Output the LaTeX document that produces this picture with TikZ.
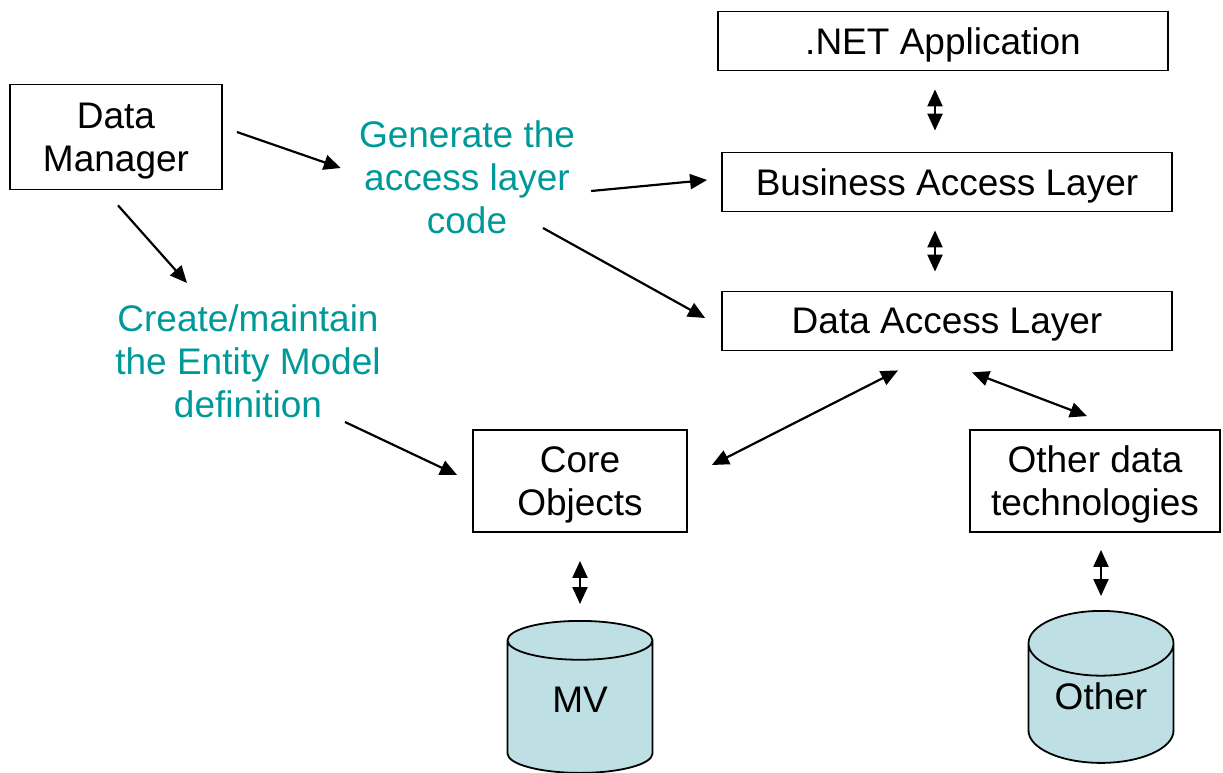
\documentclass[tikz,border=0pt]{standalone}
\usepackage{fontspec}
\setmainfont{Liberation Sans}
\usetikzlibrary{shapes.geometric,arrows.meta}
\definecolor{noteteal}{RGB}{0,153,153}
\definecolor{dbblue}{RGB}{190,224,228}
\begin{document}
\begin{tikzpicture}[x=1pt,y=-1pt,font=\fontsize{37}{43}\selectfont,
    >={Triangle[length=17pt,width=15pt]}]
  \tikzstyle{layer}=[draw,line width=1.8pt,inner sep=0pt,text depth=0pt,minimum width=450pt,minimum height=59pt]
  \tikzstyle{box}=[draw,line width=1.8pt,inner sep=0pt,text depth=0pt,align=center,minimum height=102pt]
  \tikzstyle{db}=[draw,line width=1.8pt,fill=dbblue,cylinder,shape border rotate=90,aspect=0.7,
    minimum width=145pt,minimum height=152pt,inner sep=0pt,text depth=14pt,anchor=north]
  \tikzstyle{note}=[text=noteteal,align=center,inner sep=0pt]
  \tikzstyle{link}=[line width=2.2pt]
  \useasboundingbox (0,0) rectangle (1223,773);

  \node[layer] (app) at (943,41) {.NET Application};
  \node[layer] (bal) at (947,182) {Business Access Layer};
  \node[layer] (dal) at (947,321) {Data Access Layer};
  \node[box,minimum width=212pt,minimum height=105pt] (dm) at (116,137) {Data\\Manager};
  \node[box,minimum width=214pt] (core) at (580,481) {Core\\Objects};
  \node[box,minimum width=250pt] (other) at (1095,481) {Other data\\technologies};
  \node[db] (mv) at (580,620) {MV};
  \node[db] (otherdb) at (1101,610) {Other};
  \node[note] (gen) at (467,177) {Generate the\\access layer\\code};
  \node[note] (create) at (248,361) {Create/maintain\\the Entity Model\\definition};

  \draw[link,->] ([shift={(14,-5)}]dm.east) -- ([shift={(-18,-9)}]gen.west);
  \draw[link,->] ([shift={(16,14)}]gen.east) -- ([shift={(-14,-2)}]bal.west);
  \draw[link,->] ([shift={(76,51)}]gen.center) -- ([shift={(-16,-3)}]dal.west);
  \draw[link,->] ([shift={(2,15)}]dm.south) -- ([shift={(-61,-78)}]create.center);
  \draw[link,->] ([shift={(97,61)}]create.center) -- ([shift={(-15,-6)}]core.west);

  \draw[link,<->] ([shift={(-8,18)}]app.south) -- ([shift={(-12,-21)}]bal.north);
  \draw[link,<->] ([shift={(-12,18)}]bal.south) -- ([shift={(-12,-19)}]dal.north);
  \draw[link,<->] ([shift={(-49,19)}]dal.south) -- ([shift={(24,-16)}]core.east);
  \draw[link,<->] ([shift={(25,21)}]dal.south) -- ([shift={(-8,-13)}]other.north);
  \draw[link,<->] ([shift={(0,28)}]core.south) -- ([shift={(0,-16)}]mv.north);
  \draw[link,<->] ([shift={(6,17)}]other.south) -- ([shift={(0,-14)}]otherdb.north);
\end{tikzpicture}
\end{document}
